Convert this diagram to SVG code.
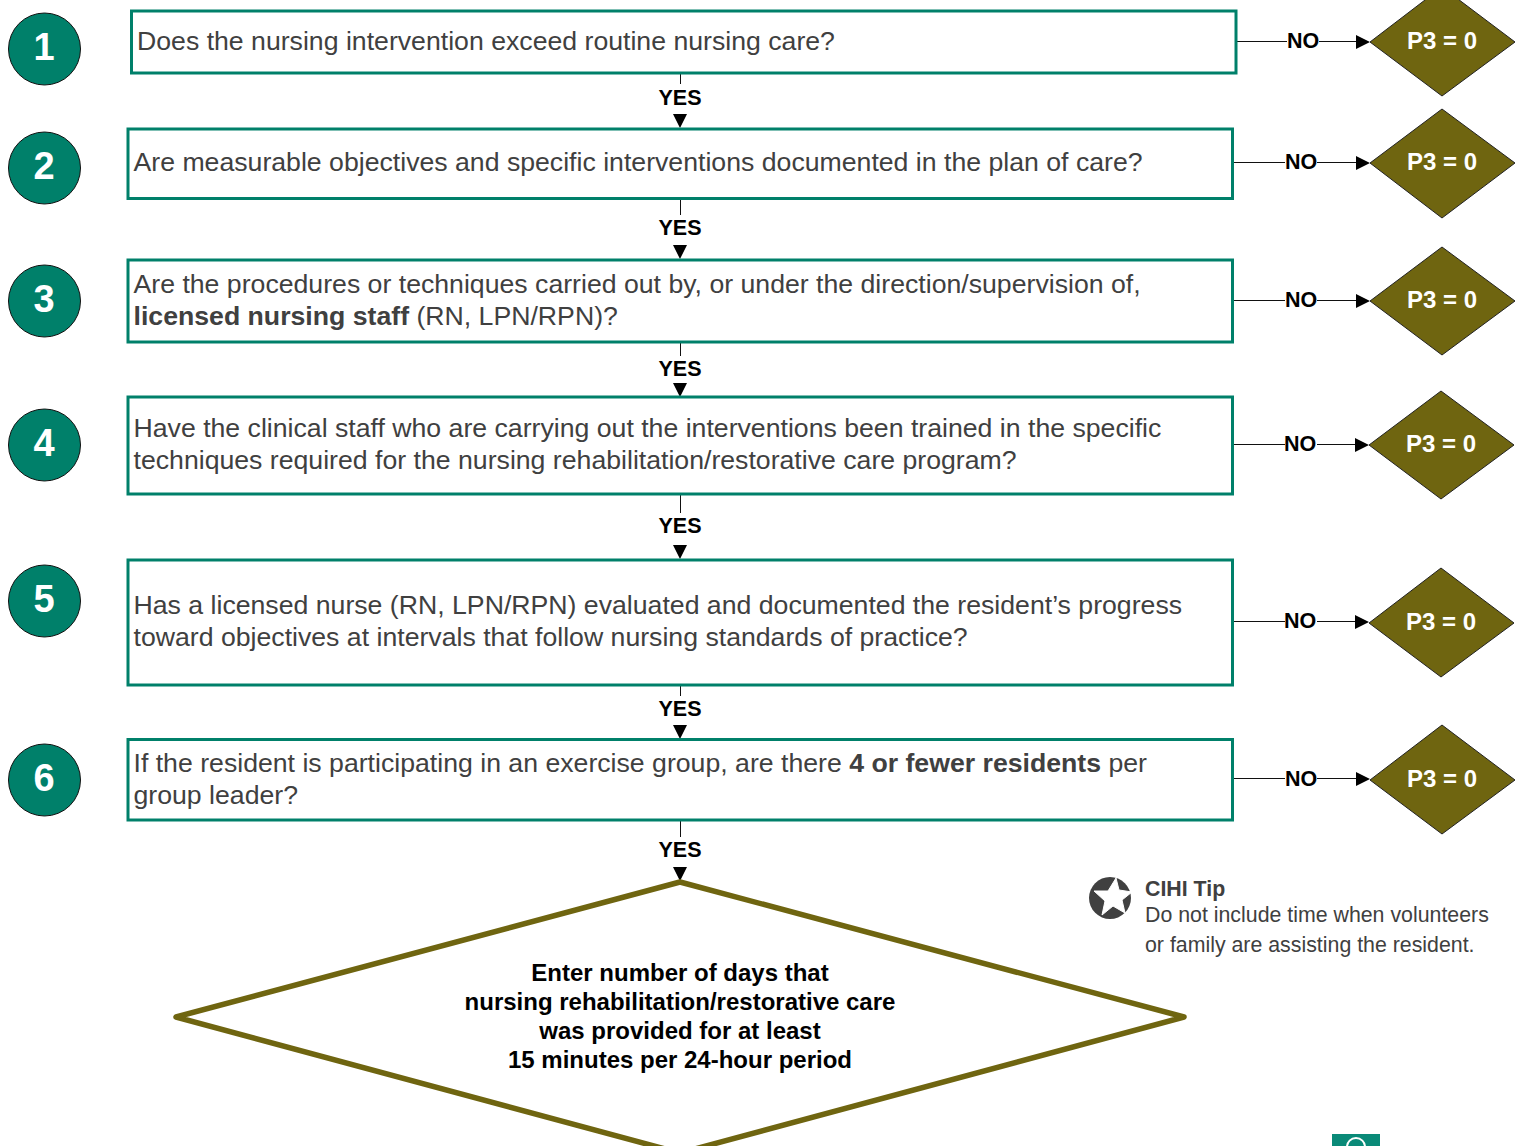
<svg xmlns="http://www.w3.org/2000/svg" width="1520" height="1146" viewBox="0 0 1520 1146">
<defs>
<style>
text{font-family:"Liberation Sans",Arial,sans-serif}
.box{fill:#fff;stroke:#00806a;stroke-width:3}
.q{font-size:26.67px;fill:#404040}
.q tspan.b{font-weight:700}
.circ{fill:#00806a;stroke:#111;stroke-width:1}
.num{font-size:38px;font-weight:700;fill:#fff;text-anchor:middle}
.dia{fill:#6f6510;stroke:#222;stroke-width:1}
.p3{font-size:24px;font-weight:700;fill:#fff;text-anchor:middle}
.lab{font-size:21.5px;font-weight:700;fill:#000;text-anchor:middle}
.ln{stroke:#111;stroke-width:1;fill:none}
.main{font-size:24px;font-weight:700;fill:#000;text-anchor:middle}
.tip{font-size:21.33px;fill:#404040}
</style>
</defs>
<rect width="1520" height="1146" fill="#fff"/>
<g id="connectors">
<path class="ln" d="M680.500 73V84M680.500 199V215M680.500 343V356M680.500 494V513M680.500 680V696M680.500 821V837"/>
<path class="ln" d="M1236 41.500H1287M1319 41.500H1356M1233 162.500H1285M1317 162.500H1356M1233 300.500H1285M1317 300.500H1356M1233 444.500H1285M1317 444.500H1355M1233 621.500H1285M1317 621.500H1355M1233 778.500H1285M1317 778.500H1356"/>
<path d="M673 114H687L680 128ZM673 245H687L680 259ZM673 383H687L680 397ZM673 545H687L680 559ZM673 725H687L680 739ZM673 867H687L680 881Z"/>
<path d="M1356 35L1370 42L1356 49ZM1356 156L1370 163L1356 170ZM1356 294L1370 301L1356 308ZM1355 438L1369 445L1355 452ZM1355 615L1369 622L1355 629ZM1356 772L1370 779L1356 786Z"/>
<text class="lab" x="680" y="105">YES</text>
<text class="lab" x="680" y="235">YES</text>
<text class="lab" x="680" y="376">YES</text>
<text class="lab" x="680" y="533">YES</text>
<text class="lab" x="680" y="716">YES</text>
<text class="lab" x="680" y="857">YES</text>
<text class="lab" x="1303" y="48">NO</text>
<text class="lab" x="1301" y="169">NO</text>
<text class="lab" x="1301" y="307">NO</text>
<text class="lab" x="1300" y="451">NO</text>
<text class="lab" x="1300" y="628">NO</text>
<text class="lab" x="1301" y="786">NO</text>
</g>
<g id="step1"><circle class="circ" cx="44.500" cy="49" r="36"/><text class="num" x="44" y="60">1</text><rect class="box" x="131.500" y="11" width="1104.500" height="62"/><text class="q" x="137" y="50">Does the nursing intervention exceed routine nursing care?</text></g>
<g id="step2"><circle class="circ" cx="44.500" cy="168" r="36"/><text class="num" x="44" y="179">2</text><rect class="box" x="128" y="129" width="1104.500" height="69.500"/><text class="q" x="133.500" y="171">Are measurable objectives and specific interventions documented in the plan of care?</text></g>
<g id="step3"><circle class="circ" cx="44.500" cy="301" r="36"/><text class="num" x="44" y="312">3</text><rect class="box" x="128" y="260" width="1104.500" height="82"/><text class="q"><tspan x="133.500" y="293">Are the procedures or techniques carried out by, or under the direction/supervision of,</tspan><tspan x="133.500" y="325"><tspan class="b">licensed nursing staff</tspan> (RN, LPN/RPN)?</tspan></text></g>
<g id="step4"><circle class="circ" cx="44.500" cy="445" r="36"/><text class="num" x="44" y="456">4</text><rect class="box" x="128" y="397" width="1104.500" height="97"/><text class="q"><tspan x="133.500" y="437">Have the clinical staff who are carrying out the interventions been trained in the specific</tspan><tspan x="133.500" y="469">techniques required for the nursing rehabilitation/restorative care program?</tspan></text></g>
<g id="step5"><circle class="circ" cx="44.500" cy="601" r="36"/><text class="num" x="44" y="612">5</text><rect class="box" x="128" y="560" width="1104.500" height="125"/><text class="q"><tspan x="133.500" y="614">Has a licensed nurse (RN, LPN/RPN) evaluated and documented the resident’s progress</tspan><tspan x="133.500" y="646">toward objectives at intervals that follow nursing standards of practice?</tspan></text></g>
<g id="step6"><circle class="circ" cx="44.500" cy="780" r="36"/><text class="num" x="44" y="791">6</text><rect class="box" x="128" y="739.500" width="1104.500" height="80.500"/><text class="q"><tspan x="133.500" y="772">If the resident is participating in an exercise group, are there <tspan class="b">4 or fewer residents</tspan> per</tspan><tspan x="133.500" y="804">group leader?</tspan></text></g>
<g id="out1"><path class="dia" d="M1442 -13L1515 42L1442 96L1370 42Z"/><text class="p3" x="1442" y="49">P3 = 0</text></g>
<g id="out2"><path class="dia" d="M1442 109L1515 163L1442 218L1370 163Z"/><text class="p3" x="1442" y="170">P3 = 0</text></g>
<g id="out3"><path class="dia" d="M1442 247L1515 301L1442 355L1370 301Z"/><text class="p3" x="1442" y="308">P3 = 0</text></g>
<g id="out4"><path class="dia" d="M1441 391L1514 445L1441 499L1369 445Z"/><text class="p3" x="1441" y="452">P3 = 0</text></g>
<g id="out5"><path class="dia" d="M1441 568L1514 623L1441 677L1369 623Z"/><text class="p3" x="1441" y="630">P3 = 0</text></g>
<g id="out6"><path class="dia" d="M1442 725L1515 780L1442 834L1370 780Z"/><text class="p3" x="1442" y="787">P3 = 0</text></g>
<g id="result">
<path d="M680 882L1184 1017L680 1153L176 1017Z" fill="#fff" stroke="#6f6510" stroke-width="5.500" stroke-linejoin="round"/>
<text class="main"><tspan x="680" y="981">Enter number of days that</tspan><tspan x="680" y="1010">nursing rehabilitation/restorative care</tspan><tspan x="680" y="1039">was provided for at least</tspan><tspan x="680" y="1068">15 minutes per 24-hour period</tspan></text>
</g>
<g id="tip">
<circle cx="1110" cy="898" r="21" fill="#404040"/>
<path d="M1116 878L1119 890L1132 892L1122 900L1125 913L1113 906L1102 915L1105 901L1094 891L1108 891Z" fill="#fff" stroke="#fff" stroke-width="1"/>
<text class="tip" x="1145" y="896" style="font-weight:700">CIHI Tip</text>
<text class="tip"><tspan x="1145" y="922">Do not include time when volunteers</tspan><tspan x="1145" y="952">or family are assisting the resident.</tspan></text>
</g>
<g id="badge">
<rect x="1332" y="1134" width="48" height="14" fill="#0a8a78"/>
<circle cx="1356" cy="1147" r="9" fill="none" stroke="#fff" stroke-width="2"/>
</g>
</svg>
